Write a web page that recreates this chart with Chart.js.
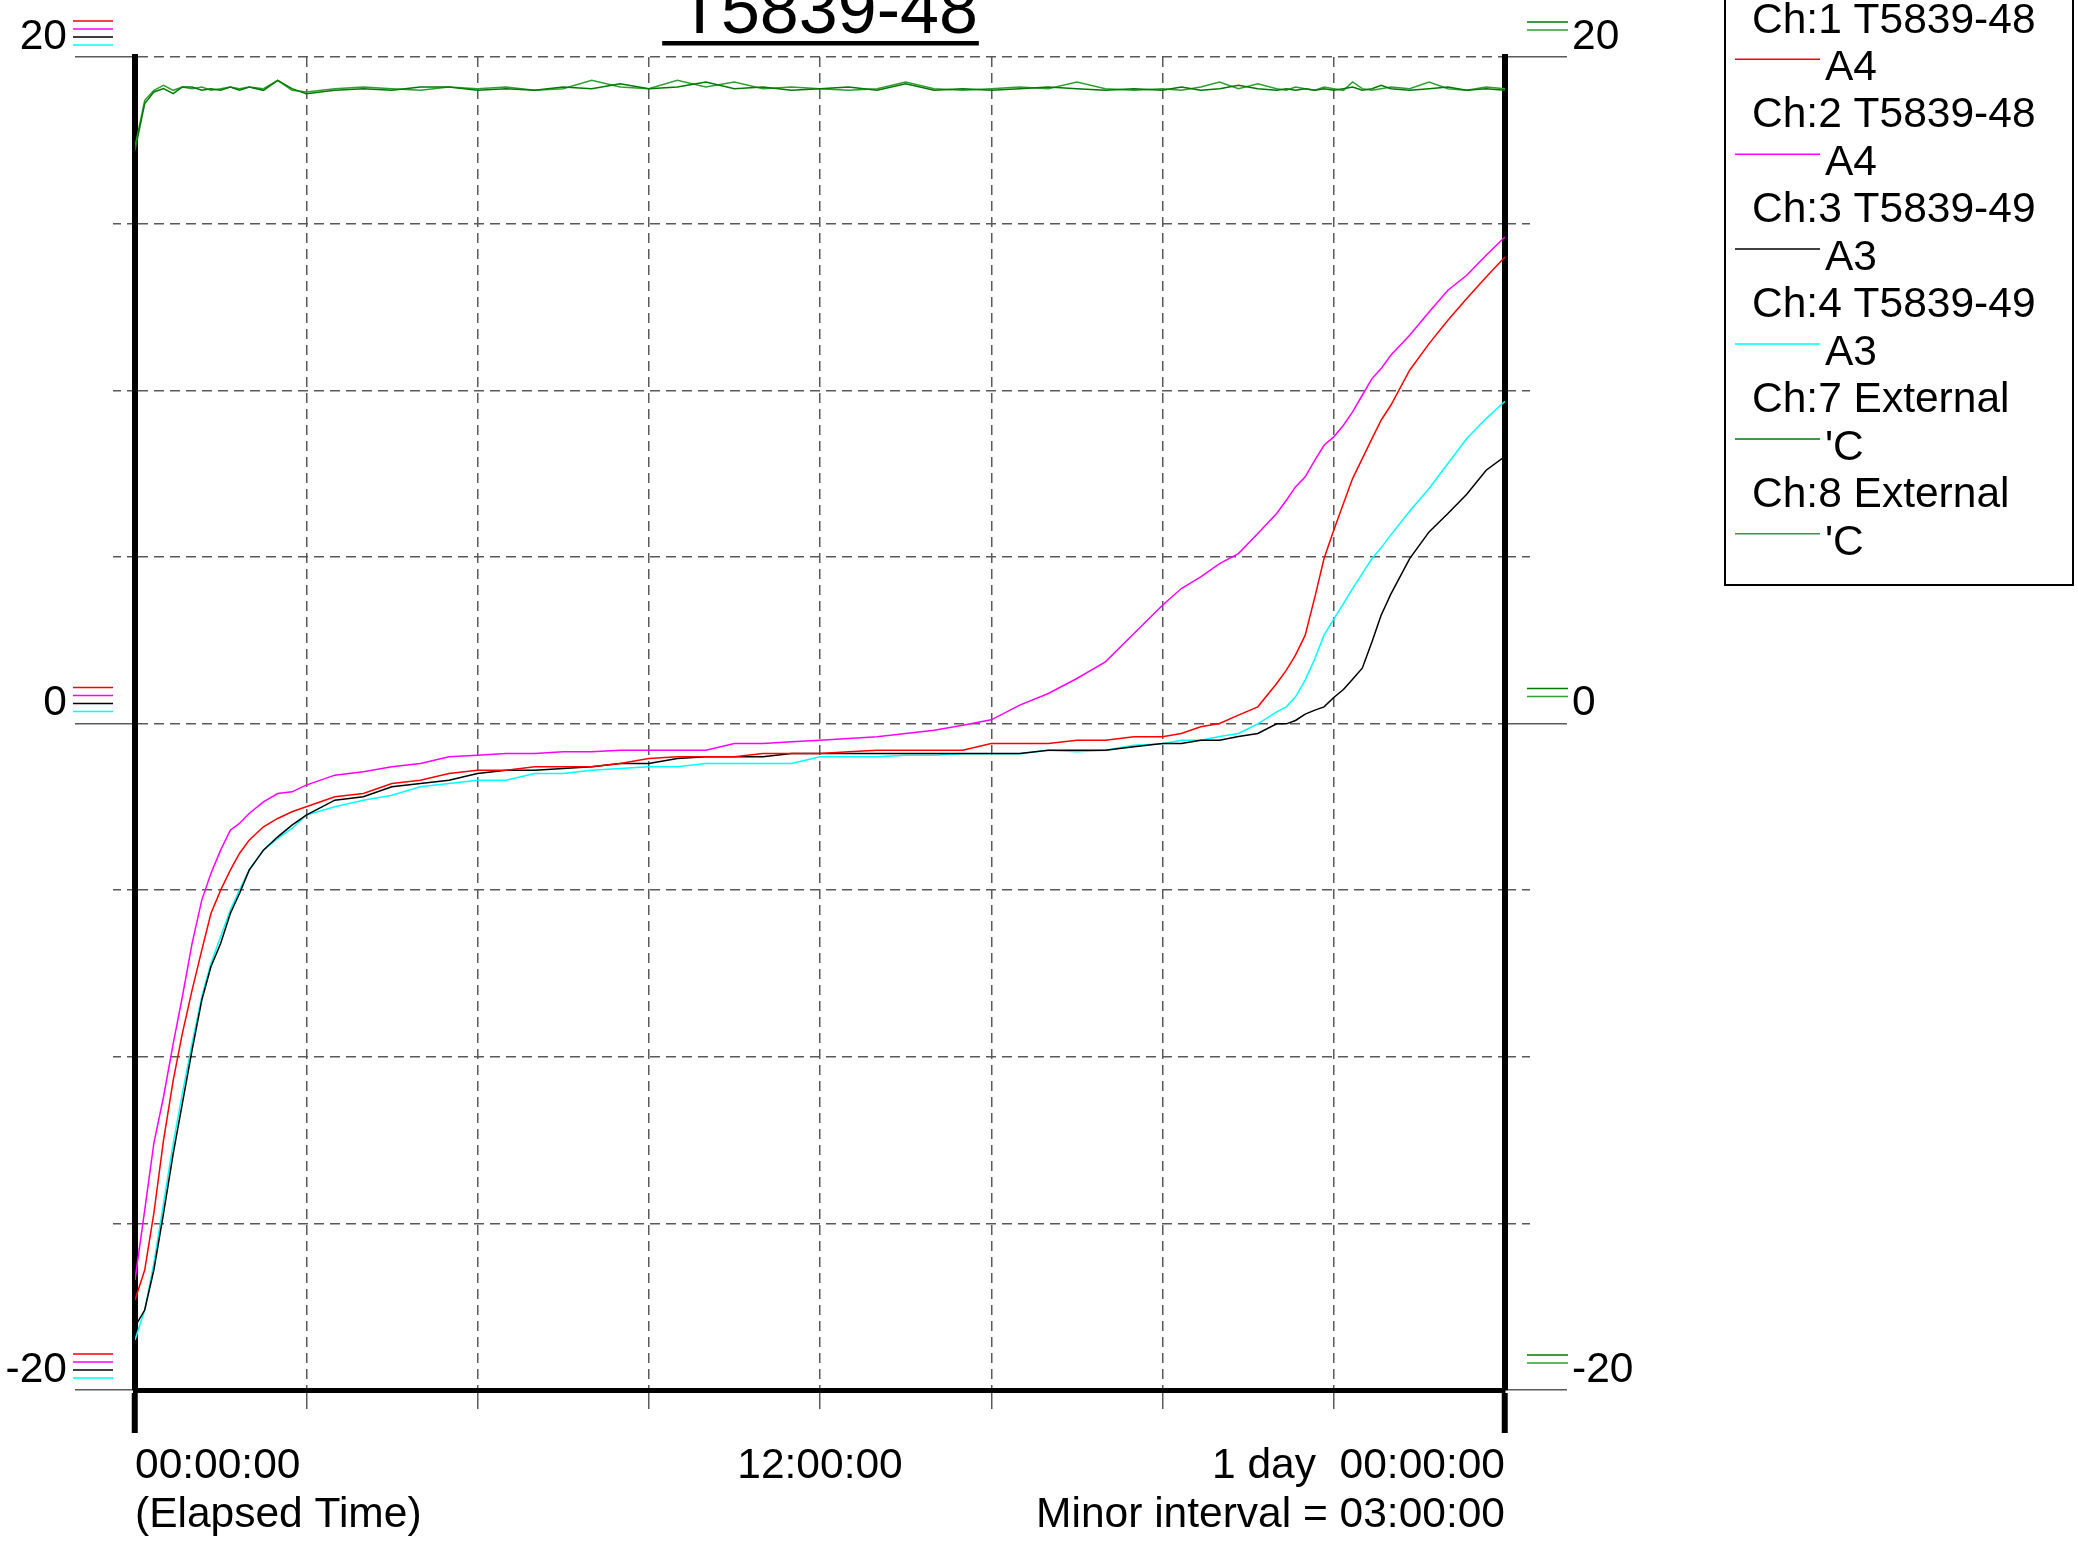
<!DOCTYPE html>
<html>
<head>
<meta charset="utf-8">
<title>T5839-48</title>
<script src="https://cdn.jsdelivr.net/npm/chart.js@4.4.0/dist/chart.umd.min.js"></script>
<style>
  html, body { margin: 0; padding: 0; background: #fff; }
  #chart { display: block; }
</style>
</head>
<body>
<canvas id="chart" width="2078" height="1542"></canvas>
<script>
// ── Data (elapsed hours, temperatures) ───────────────────────────────────

const chartTitle = 'T5839-48';

const hours = [
  0, 0.17, 0.33, 0.5, 0.67, 0.83, 1.0, 1.17, 1.33, 1.5,
  1.67, 1.83, 2.0, 2.25, 2.5, 2.75, 3.0, 3.5, 4.0, 4.5,
  5.0, 5.5, 6.0, 6.5, 7.0, 7.5, 8.0, 8.5, 9.0, 9.5,
  10.0, 10.5, 11.0, 11.5, 12.0, 12.5, 13.0, 13.5, 14.0, 14.5,
  15.0, 15.5, 16.0, 16.5, 17.0, 17.5, 18.0, 18.33, 18.67, 19.0,
  19.33, 19.67, 20.0, 20.17, 20.33, 20.5, 20.67, 20.83, 21.0, 21.17,
  21.33, 21.5, 21.67, 21.83, 22.0, 22.33, 22.67, 23.0, 23.33, 23.67,
  24.0,
];

const ch1 = [
  -17.3, -16.4, -14.7, -12.5, -10.7, -9.3, -8.0, -6.8, -5.7, -5.0,
  -4.4, -3.9, -3.5, -3.1, -2.85, -2.65, -2.5, -2.2, -2.1, -1.8,
  -1.7, -1.5, -1.4, -1.4, -1.3, -1.3, -1.3, -1.2, -1.05, -1.0,
  -1.0, -1.0, -0.9, -0.9, -0.9, -0.85, -0.8, -0.8, -0.8, -0.8,
  -0.6, -0.6, -0.6, -0.5, -0.5, -0.4, -0.4, -0.3, -0.1, 0.0,
  0.25, 0.5, 1.2, 1.6, 2.05, 2.65, 3.8, 4.95, 5.8, 6.6,
  7.35, 7.95, 8.55, 9.1, 9.55, 10.6, 11.4, 12.1, 12.75, 13.4,
  14.0,
];

const ch2 = [
  -16.7, -14.6, -12.6, -11.2, -9.6, -8.2, -6.6, -5.3, -4.5, -3.8,
  -3.2, -3.0, -2.7, -2.35, -2.1, -2.05, -1.85, -1.55, -1.45, -1.3,
  -1.2, -1.0, -0.95, -0.9, -0.9, -0.85, -0.85, -0.8, -0.8, -0.8,
  -0.8, -0.6, -0.6, -0.55, -0.5, -0.45, -0.4, -0.3, -0.2, -0.05,
  0.11, 0.55, 0.9, 1.35, 1.85, 2.7, 3.55, 4.05, 4.4, 4.8,
  5.1, 5.7, 6.3, 6.7, 7.1, 7.4, 7.9, 8.35, 8.6, 8.95,
  9.35, 9.85, 10.35, 10.65, 11.05, 11.65, 12.35, 13.0, 13.45, 14.05,
  14.6,
];

const ch3 = [
  -18.1, -17.6, -16.4, -14.7, -12.9, -11.4, -9.8, -8.3, -7.3, -6.6,
  -5.7, -5.1, -4.4, -3.8, -3.4, -3.05, -2.75, -2.3, -2.2, -1.9,
  -1.8, -1.7, -1.5, -1.4, -1.4, -1.35, -1.3, -1.2, -1.2, -1.05,
  -1.0, -1.0, -1.0, -0.9, -0.9, -0.9, -0.9, -0.9, -0.9, -0.9,
  -0.9, -0.9, -0.8, -0.8, -0.8, -0.7, -0.6, -0.6, -0.5, -0.5,
  -0.39, -0.3, -0.01, -0.01, 0.09, 0.28, 0.4, 0.5, 0.78, 1.02,
  1.33, 1.66, 2.45, 3.25, 3.88, 4.95, 5.75, 6.3, 6.88, 7.6,
  8.02,
];

const ch4 = [
  -18.5, -17.6, -16.2, -14.4, -12.6, -11.1, -9.6, -8.2, -7.2, -6.4,
  -5.6, -5.0, -4.4, -3.8, -3.45, -3.15, -2.75, -2.5, -2.3, -2.15,
  -1.9, -1.8, -1.7, -1.7, -1.5, -1.5, -1.4, -1.35, -1.3, -1.3,
  -1.2, -1.2, -1.2, -1.2, -1.0, -1.0, -1.0, -0.95, -0.95, -0.91,
  -0.91, -0.91, -0.8, -0.85, -0.8, -0.65, -0.61, -0.5, -0.5, -0.39,
  -0.3, -0.01, 0.35, 0.5, 0.8, 1.3, 1.95, 2.65, 3.13, 3.6,
  4.05, 4.5, 4.95, 5.27, 5.66, 6.37, 7.05, 7.8, 8.55, 9.15,
  9.67,
];

const ch7 = [
  17.2, 18.6, 18.95, 19.05, 18.9, 19.1, 19.1, 19.0, 19.05, 19.0,
  19.1, 19.0, 19.1, 19.0, 19.3, 19.05, 18.9, 19.0, 19.05, 19.0,
  19.1, 19.1, 19.0, 19.05, 19.0, 19.1, 19.05, 19.2, 19.05, 19.1,
  19.25, 19.05, 19.1, 19.0, 19.05, 19.1, 19.0, 19.2, 19.0, 19.05,
  19.0, 19.05, 19.1, 19.05, 19.0, 19.05, 19.0, 19.1, 19.0, 19.05,
  19.15, 19.05, 19.0, 19.05, 19.0, 19.05, 19.0, 19.05, 19.0, 19.05,
  19.1, 19.0, 19.05, 19.15, 19.05, 19.0, 19.05, 19.1, 19.0, 19.05,
  19.0,
];

const ch8 = [
  17.3, 18.7, 19.0, 19.15, 19.0, 19.1, 19.05, 19.1, 19.0, 19.05,
  19.1, 19.05, 19.1, 19.05, 19.3, 19.0, 18.95, 19.05, 19.1, 19.05,
  19.0, 19.1, 19.05, 19.1, 19.0, 19.05, 19.3, 19.1, 19.05, 19.3,
  19.1, 19.25, 19.05, 19.1, 19.05, 19.0, 19.05, 19.25, 19.05, 19.0,
  19.05, 19.1, 19.05, 19.25, 19.05, 19.0, 19.05, 19.0, 19.1, 19.25,
  19.05, 19.2, 19.05, 19.0, 19.1, 19.05, 19.0, 19.1, 19.05, 19.0,
  19.25, 19.05, 19.0, 19.05, 19.1, 19.05, 19.25, 19.05, 19.0, 19.1,
  19.05,
];

const channelNames = ['Ch:1 T5839-48', 'Ch:2 T5839-48', 'Ch:3 T5839-49', 'Ch:4 T5839-49', 'Ch:7 External', 'Ch:8 External'];
const channelUnits = ['A4', 'A4', 'A3', 'A3', "'C", "'C"];

// labelled ticks only; the other gridlines are the 3 h / 5 'C minors
const timeTicks = [0, 12, 24];
const timeTickLabels = [['00:00:00', '(Elapsed Time)'], '12:00:00', ['1 day  00:00:00', 'Minor interval = 03:00:00']];
const tempTicks = [-20, 0, 20];

// ── Styling ──────────────────────────────────────────────────

const FONT = "'Liberation Sans', Arial, sans-serif";
const FONT_PX = 42.5;
const GRID = '#5a5a5a';
Chart.defaults.font.family = FONT;
Chart.defaults.color = '#000';

const series = [
  { data: ch1, color: '#ff0000', axis: 'y' },
  { data: ch2, color: '#ff00ff', axis: 'y' },
  { data: ch3, color: '#000000', axis: 'y' },
  { data: ch4, color: '#00ffff', axis: 'y' },
  { data: ch7, color: '#007a00', axis: 'y2' },
  { data: ch8, color: '#2f9f2f', axis: 'y2' },
];

const isTempLabel = v => tempTicks.includes(v);
const isTimeEnd = v => v === 0 || v === 24;

// ── Plugins: title, legend box, axis colour keys ─────────────

const titlePlugin = {
  id: 'underlinedTitle',
  afterDraw(chart) {
    const { ctx, chartArea } = chart;
    const cx = (chartArea.left + chartArea.right) / 2 + 8;
    ctx.save();
    ctx.font = `70px ${FONT}`;
    ctx.fillStyle = '#000';
    ctx.textAlign = 'center';
    ctx.textBaseline = 'alphabetic';
    ctx.fillText(chartTitle, cx, 33);
    const w = ctx.measureText(chartTitle).width;
    ctx.fillRect(cx - w / 2 - 16, 41, w + 17, 4.5);
    ctx.restore();
  },
};

const legendPlugin = {
  id: 'channelLegend',
  afterDraw(chart) {
    const ctx = chart.ctx;
    const left = chart.chartArea.right + 220;
    const right = left + 348;
    ctx.save();
    ctx.lineWidth = 2;
    ctx.strokeStyle = '#000';
    ctx.strokeRect(left, -10, right - left, 595);
    ctx.font = `${FONT_PX}px ${FONT}`;
    ctx.fillStyle = '#000';
    ctx.textBaseline = 'alphabetic';
    chart.data.datasets.forEach((ds, i) => {
      const y = 32.5 + i * 94.9;
      ctx.fillText(channelNames[i], left + 27, y);
      ctx.fillText(channelUnits[i], left + 100, y + 47.5);
      ctx.strokeStyle = ds.borderColor;
      ctx.lineWidth = 1.5;
      ctx.beginPath();
      ctx.moveTo(left + 10, y + 26.8);
      ctx.lineTo(left + 95, y + 26.8);
      ctx.stroke();
    });
    ctx.restore();
  },
};

// small coloured dashes beside the labelled ticks, one per channel on that axis
const axisKeyPlugin = {
  id: 'axisKeys',
  afterDraw(chart) {
    const { ctx, scales } = chart;
    const sets = chart.data.datasets;
    ctx.save();
    ctx.lineWidth = 1.5;
    for (const v of tempTicks) {
      const yl = scales.y.getPixelForValue(v);
      const yr = scales.y2.getPixelForValue(v);
      sets.filter(d => d.yAxisID === 'y').forEach((d, k) => {
        ctx.strokeStyle = d.borderColor;
        ctx.beginPath();
        ctx.moveTo(scales.y.right - 62, yl - 36 + k * 8);
        ctx.lineTo(scales.y.right - 22, yl - 36 + k * 8);
        ctx.stroke();
      });
      sets.filter(d => d.yAxisID === 'y2').forEach((d, k) => {
        ctx.strokeStyle = d.borderColor;
        ctx.beginPath();
        ctx.moveTo(scales.y2.left + 22, yr - 35 + k * 8);
        ctx.lineTo(scales.y2.left + 63, yr - 35 + k * 8);
        ctx.stroke();
      });
    }
    ctx.restore();
  },
};

// ── Chart ────────────────────────────────────────────────────

const tickFont = { size: FONT_PX, family: FONT };

new Chart(document.getElementById('chart'), {
  type: 'line',
  data: {
    datasets: series.map((s, i) => ({
      label: `${channelNames[i]} ${channelUnits[i]}`,
      data: hours.map((h, j) => ({ x: h, y: s.data[j] })),
      borderColor: s.color,
      backgroundColor: s.color,
      borderWidth: 1.5,
      pointRadius: 0,
      tension: 0,
      fill: false,
      yAxisID: s.axis,
    })),
  },
  options: {
    responsive: false,
    devicePixelRatio: 1,
    animation: false,
    layout: { autoPadding: false, padding: { top: 57, left: 0, right: 0, bottom: 0 } },
    plugins: { legend: { display: false }, title: { display: false }, tooltip: { enabled: false } },
    scales: {
      x: {
        type: 'linear',
        min: 0,
        max: 24,
        ticks: {
          stepSize: 3,
          autoSkip: false,
          maxRotation: 0,
          align: 'inner',
          padding: 9,
          font: { ...tickFont, lineHeight: 1.15 },
          color: '#000',
          callback: v => {
            const i = timeTicks.indexOf(v);
            return i >= 0 ? timeTickLabels[i] : '';
          },
        },
        grid: {
          color: c => isTimeEnd(c.tick.value) ? 'rgba(0,0,0,0)' : GRID,
          lineWidth: 1.5,
          tickLength: 43,
          tickColor: c => isTimeEnd(c.tick.value) ? '#000' : GRID,
          tickWidth: c => isTimeEnd(c.tick.value) ? 6 : 1.5,
          tickBorderDash: c => isTimeEnd(c.tick.value) ? [] : [16, 100],
        },
        border: { display: true, color: '#000', width: 5, dash: [10, 6] },
        afterFit: s => { s.height = 152; },
      },
      y: {
        type: 'linear',
        position: 'left',
        min: -20,
        max: 20,
        ticks: {
          stepSize: 5,
          padding: 8,
          labelOffset: -20,
          font: tickFont,
          color: '#000',
          callback: v => isTempLabel(v) ? String(v) : '',
        },
        grid: {
          color: c => c.tick.value === -20 ? 'rgba(0,0,0,0)' : GRID,
          lineWidth: 1.5,
          tickLength: 60,
          tickColor: GRID,
          tickWidth: 1.5,
          // the left tick is stroked from its outer end, so skip to the last 22px
          tickBorderDash: c => isTempLabel(c.tick.value) ? [] : [0, 38, 8, 6, 8, 100],
        },
        border: { display: true, color: '#000', width: 6, dash: [10, 6] },
        afterFit: s => { s.width = 135; },
      },
      y2: {
        type: 'linear',
        position: 'right',
        min: -20,
        max: 20,
        ticks: {
          stepSize: 5,
          padding: 5,
          labelOffset: -20,
          font: tickFont,
          color: '#000',
          callback: v => isTempLabel(v) ? String(v) : '',
        },
        grid: {
          drawOnChartArea: false,
          color: GRID,
          lineWidth: 1.5,
          tickLength: 62,
          tickColor: GRID,
          tickWidth: 1.5,
          tickBorderDash: c => isTempLabel(c.tick.value) ? [] : [8, 6, 8, 100],
        },
        border: { display: true, color: '#000', width: 6 },
        afterFit: s => { s.width = 573; },
      },
    },
  },
  plugins: [titlePlugin, legendPlugin, axisKeyPlugin],
});
</script>
</body>
</html>
